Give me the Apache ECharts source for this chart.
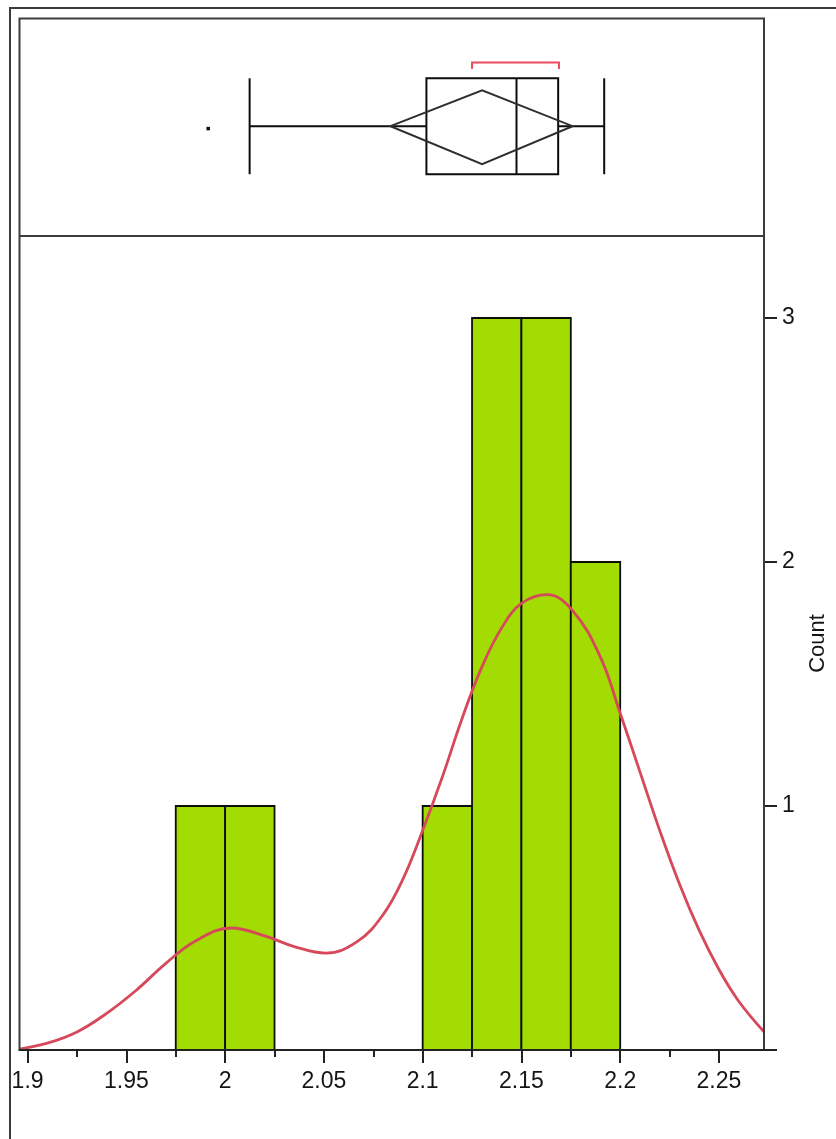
<!DOCTYPE html>
<html>
<head>
<meta charset="utf-8">
<title>Distribution</title>
<script src="https://cdn.jsdelivr.net/npm/echarts@6/dist/echarts.min.js"></script>
<style>
  html, body { margin: 0; padding: 0; background: #fff; }
  #chart { width: 836px; height: 1139px; }
</style>
</head>
<body>
<div id="chart"></div>
<script>
// ---- data ----
const binStart = [1.975, 2.0, 2.1, 2.125, 2.15, 2.175];
const binCounts = [1, 1, 1, 3, 3, 2];
const binWidth = 0.025;

// quantile box: lower whisker, Q1, median, Q3, upper whisker
const boxStats = [2.0124, 2.1019, 2.1475, 2.1686, 2.1919];
const outliers = [1.9913];
const meanDiamond = [2.0837, 2.1301, 2.1759];   // lower CI, mean, upper CI
const shortestHalf = [2.1250, 2.1690];

// smooth density curve, scaled to counts
const densityX = [1.8959, 1.91, 1.925, 1.94, 1.955, 1.97, 1.985, 2.003, 2.02, 2.035, 2.051,
  2.067, 2.08, 2.09, 2.10, 2.11, 2.12, 2.13, 2.14, 2.15, 2.163, 2.176, 2.19,
  2.20, 2.21, 2.22, 2.23, 2.24, 2.25, 2.26, 2.2728];
const densityY = [0.004, 0.028, 0.074, 0.150, 0.245, 0.355, 0.447, 0.500, 0.468, 0.424, 0.397,
  0.445, 0.555, 0.700, 0.900, 1.120, 1.360, 1.570, 1.730, 1.830, 1.866, 1.800, 1.610,
  1.380, 1.140, 0.900, 0.680, 0.490, 0.330, 0.200, 0.075];

const majorTicks = [1.9, 1.95, 2, 2.05, 2.1, 2.15, 2.2, 2.25];
const minorTicks = [1.925, 1.975, 2.025, 2.075, 2.125, 2.175, 2.225];
const countTicks = [1, 2, 3];

// ---- layout ----
const X_MIN = 1.8959, X_MAX = 2.2728;
const COUNT_MAX = 3.332;
const FONT = '"Liberation Sans", Arial, sans-serif';
const PLOT_L = 19.5, PLOT_R = 764, PLOT_T = 18.5, SEP_Y = 236, PLOT_B = 1050;

const chart = echarts.init(document.getElementById('chart'), null, { renderer: 'canvas' });

function fmt(v) { return String(Math.round(v * 1000) / 1000); }

function renderBox(params, api) {
  const lw = api.value(0), q1 = api.value(1), med = api.value(2), q3 = api.value(3), uw = api.value(4);
  const yTop = 0.725, yBot = 0.284, yMid = 0.505;
  const c = (x, y) => api.coord([x, y]);
  const ink = { stroke: '#0d0d0d', lineWidth: 2, fill: null };
  const line = (a, b, style) => ({ type: 'line', shape: { x1: a[0], y1: a[1], x2: b[0], y2: b[1] }, style: style || ink });
  const tl = c(q1, yTop), br = c(q3, yBot);
  const children = [
    line(c(lw, yMid), c(q1, yMid)),
    line(c(q3, yMid), c(uw, yMid)),
    line(c(lw, yTop), c(lw, yBot)),
    line(c(uw, yTop), c(uw, yBot)),
    { type: 'rect', shape: { x: tl[0], y: tl[1], width: br[0] - tl[0], height: br[1] - tl[1] }, style: ink },
    line(c(med, yTop), c(med, yBot)),
    {
      type: 'polygon',
      shape: { points: [c(meanDiamond[0], yMid), c(meanDiamond[1], 0.670), c(meanDiamond[2], yMid), c(meanDiamond[1], 0.330)] },
      style: { stroke: '#2e2e2e', lineWidth: 2, fill: null }
    },
    {
      type: 'polyline',
      shape: { points: [c(shortestHalf[0], 0.768), c(shortestHalf[0], 0.798), c(shortestHalf[1], 0.798), c(shortestHalf[1], 0.768)] },
      style: { stroke: '#EE4B5C', lineWidth: 2, fill: null }
    }
  ];
  outliers.forEach(o => {
    const p = c(o, 0.495);
    children.push({ type: 'rect', shape: { x: p[0] - 1.5, y: p[1] - 1.5, width: 3.5, height: 3.5 }, style: { fill: '#111' } });
  });
  return { type: 'group', children };
}

function renderBin(params, api) {
  const p0 = api.coord([api.value(0), api.value(2)]);
  const p1 = api.coord([api.value(1), 0]);
  return {
    type: 'rect',
    shape: { x: p0[0], y: p0[1], width: p1[0] - p0[0], height: p1[1] - p0[1] },
    style: { fill: '#A2DC02', stroke: '#0d0d0d', lineWidth: 1.8 }
  };
}

const option = {
  animation: false,
  backgroundColor: '#fff',
  textStyle: { fontFamily: FONT },
  grid: [
    { left: PLOT_L, right: 836 - PLOT_R, top: PLOT_T, height: SEP_Y - PLOT_T, containLabel: false, outerBoundsMode: 'none' },
    { left: PLOT_L, right: 836 - PLOT_R, top: SEP_Y + 1, height: PLOT_B - SEP_Y - 1, containLabel: false, outerBoundsMode: 'none' }
  ],
  xAxis: [
    { gridIndex: 0, type: 'value', min: X_MIN, max: X_MAX, show: false },
    {
      gridIndex: 1, type: 'value', min: X_MIN, max: X_MAX, position: 'bottom',
      axisLine: { show: true, lineStyle: { color: '#222', width: 2 } },
      axisTick: { show: true, customValues: majorTicks, length: 13, lineStyle: { color: '#222', width: 2 } },
      axisLabel: { show: true, customValues: majorTicks, formatter: fmt, margin: 20, fontSize: 23, color: '#151515', fontFamily: FONT },
      splitLine: { show: false }
    },
    {
      gridIndex: 1, type: 'value', min: X_MIN, max: X_MAX, position: 'bottom', offset: 0,
      axisLine: { show: false },
      axisTick: { show: true, customValues: minorTicks, length: 7, lineStyle: { color: '#222', width: 2 } },
      axisLabel: { show: false },
      splitLine: { show: false }
    }
  ],
  yAxis: [
    { gridIndex: 0, type: 'value', min: 0, max: 1, show: false },
    {
      gridIndex: 1, type: 'value', min: 0, max: COUNT_MAX, position: 'right',
      axisLine: { show: false },
      axisTick: { show: true, customValues: countTicks, length: 13, lineStyle: { color: '#222', width: 2 } },
      axisLabel: { show: true, customValues: countTicks, formatter: fmt, margin: 18, fontSize: 23, color: '#151515', fontFamily: FONT },
      splitLine: { show: false },
      name: 'Count', nameLocation: 'middle', nameRotate: 90, nameGap: 43,
      nameTextStyle: { fontSize: 22, color: '#151515', fontFamily: FONT }
    }
  ],
  series: [
    {
      type: 'custom', xAxisIndex: 0, yAxisIndex: 0, renderItem: renderBox,
      data: [boxStats], encode: { x: [0, 1, 2, 3, 4] }, silent: true
    },
    {
      type: 'custom', xAxisIndex: 1, yAxisIndex: 1, renderItem: renderBin,
      data: binStart.map((s, i) => [s, s + binWidth, binCounts[i]]),
      encode: { x: [0, 1], y: 2 }, silent: true
    },
    {
      type: 'line', xAxisIndex: 1, yAxisIndex: 1, smooth: 0.4, symbol: 'none', clip: true,
      data: densityX.map((x, i) => [x, densityY[i]]),
      lineStyle: { color: '#D6495B', width: 2.8 }, z: 5, silent: true
    }
  ],
  graphic: [
    // outer frame
    { type: 'rect', z: 100, silent: true, shape: { x: 10, y: 8, width: 900, height: 1200 }, style: { fill: null, stroke: '#3c3c3c', lineWidth: 2 } },
    // panel frame and divider
    { type: 'rect', z: 100, silent: true, shape: { x: PLOT_L, y: PLOT_T, width: PLOT_R - PLOT_L, height: PLOT_B - PLOT_T }, style: { fill: null, stroke: '#3c3c3c', lineWidth: 2 } },
    { type: 'line', z: 100, silent: true, shape: { x1: PLOT_L, y1: SEP_Y, x2: PLOT_R, y2: SEP_Y }, style: { stroke: '#3c3c3c', lineWidth: 2 } },
    { type: 'line', z: 100, silent: true, shape: { x1: PLOT_L, y1: PLOT_B, x2: 777, y2: PLOT_B }, style: { stroke: '#222', lineWidth: 2 } }
  ]
};

chart.setOption(option);
</script>
</body>
</html>
